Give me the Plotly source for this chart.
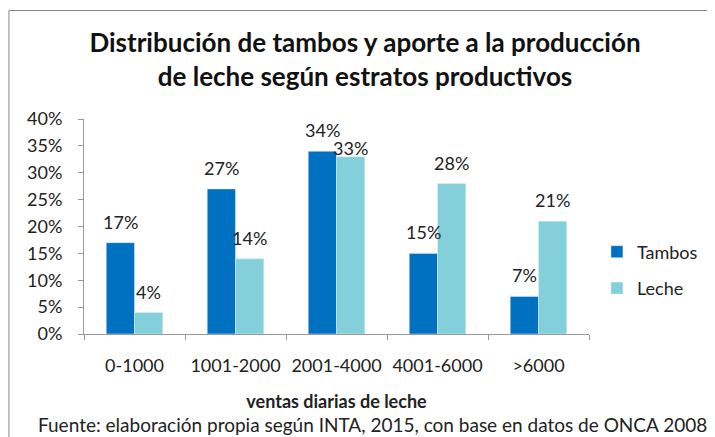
import plotly.graph_objects as go

categories = ["0-1000", "1001-2000", "2001-4000", "4001-6000", ">6000"]
tambos = [0.17, 0.27, 0.34, 0.15, 0.07]
leche = [0.04, 0.14, 0.33, 0.28, 0.21]
y_ticks = [0, 0.05, 0.10, 0.15, 0.20, 0.25, 0.30, 0.35, 0.40]

FONT = "Lato"
OFF = 8  # default page body margin
W, H = 715 - OFF, 437 - OFF
# plot area in page pixels
X0, X1, Y0, Y1 = 84 - OFF, 592 - OFF, 119 - OFF, 334 - OFF
pw, ph = X1 - X0, Y1 - Y0
BARGAP = 0.44
YMAX = 0.40

def px(x):  # page x -> paper
    return (x - OFF - X0) / pw

def py(y):  # page y -> paper
    return (Y1 - (y - OFF)) / ph

fig = go.Figure()
series = [("Tambos", tambos, "#0070C0"), ("Leche", leche, "#83D0DA")]
for i, (name, vals, col) in enumerate(series):
    fig.add_trace(go.Bar(
        x=categories, y=vals, name=name, marker_color=col,
        legendgroup=name,
    ))

# data labels above each bar; when neighbouring labels would collide,
# the lower one sits right on its bar (as in the original)
bar_w = pw / len(categories) * (1 - BARGAP) / len(series)
for k, c in enumerate(categories):
    vals = [s[1][k] for s in series]
    gap_px = abs(vals[0] - vals[1]) / YMAX * ph
    for i, v in enumerate(vals):
        shift = (i - (len(series) - 1) / 2) * bar_w
        ys = 8
        if gap_px < 18 and v < max(vals):
            ys = -4
        fig.add_annotation(
            x=c, y=v, xref="x", yref="y", text=f"{v:.0%}",
            xshift=shift, yshift=ys, yanchor="bottom", xanchor="center",
            showarrow=False, font=dict(size=18, family=FONT, color="#222"),
        )

fig.update_layout(
    width=W, height=H,
    margin=dict(l=X0, r=W - X1, t=Y0, b=H - Y1),
    paper_bgcolor="white", plot_bgcolor="white",
    barmode="group", bargap=BARGAP, bargroupgap=0,
    font=dict(family=FONT, size=18, color="#222"),
    title=dict(
        text="<b>Distribución de tambos y aporte a la producción<br>de leche según estratos productivos</b>",
        xref="container", x=(365 - OFF) / W, xanchor="center",
        yref="container", y=1 - (52 - OFF) / H, yanchor="middle",
        font=dict(size=26, family=FONT, color="#111"),
    ),
    legend=dict(x=px(600), y=py(270), xanchor="left", yanchor="middle",
                font=dict(size=18, family=FONT), tracegroupgap=10,
                bgcolor="rgba(0,0,0,0)"),
    showlegend=True,
)
fig.update_xaxes(
    showline=True, linecolor="#999", linewidth=1,
    ticks="outside", tickson="boundaries", ticklen=5, tickcolor="#999",
    ticklabelstandoff=15,
    tickfont=dict(size=18, family=FONT), showgrid=False,
    title=dict(text="<b>ventas diarias de leche</b>", font=dict(size=18, family=FONT), standoff=20),
)
fig.update_yaxes(
    range=[0, YMAX], tickvals=y_ticks, tickformat=".0%",
    showline=True, linecolor="#999", linewidth=1,
    ticks="outside", ticklen=5, tickcolor="#999", ticklabelstandoff=12,
    tickfont=dict(size=18, family=FONT), showgrid=False, zeroline=False,
)
fig.add_annotation(
    text="Fuente: elaboración propia según INTA, 2015, con base en datos de ONCA 2008",
    xref="paper", yref="paper", x=px(374), y=py(424), xanchor="center", yanchor="middle",
    showarrow=False, font=dict(size=19, family=FONT, color="#222"),
)
fig.add_shape(
    type="rect", xref="paper", yref="paper",
    x0=px(8.5), y0=py(460), x1=px(740), y1=py(10.5),
    line=dict(color="#888", width=1), fillcolor="rgba(0,0,0,0)", layer="below",
)
fig.write_html("out.html")
